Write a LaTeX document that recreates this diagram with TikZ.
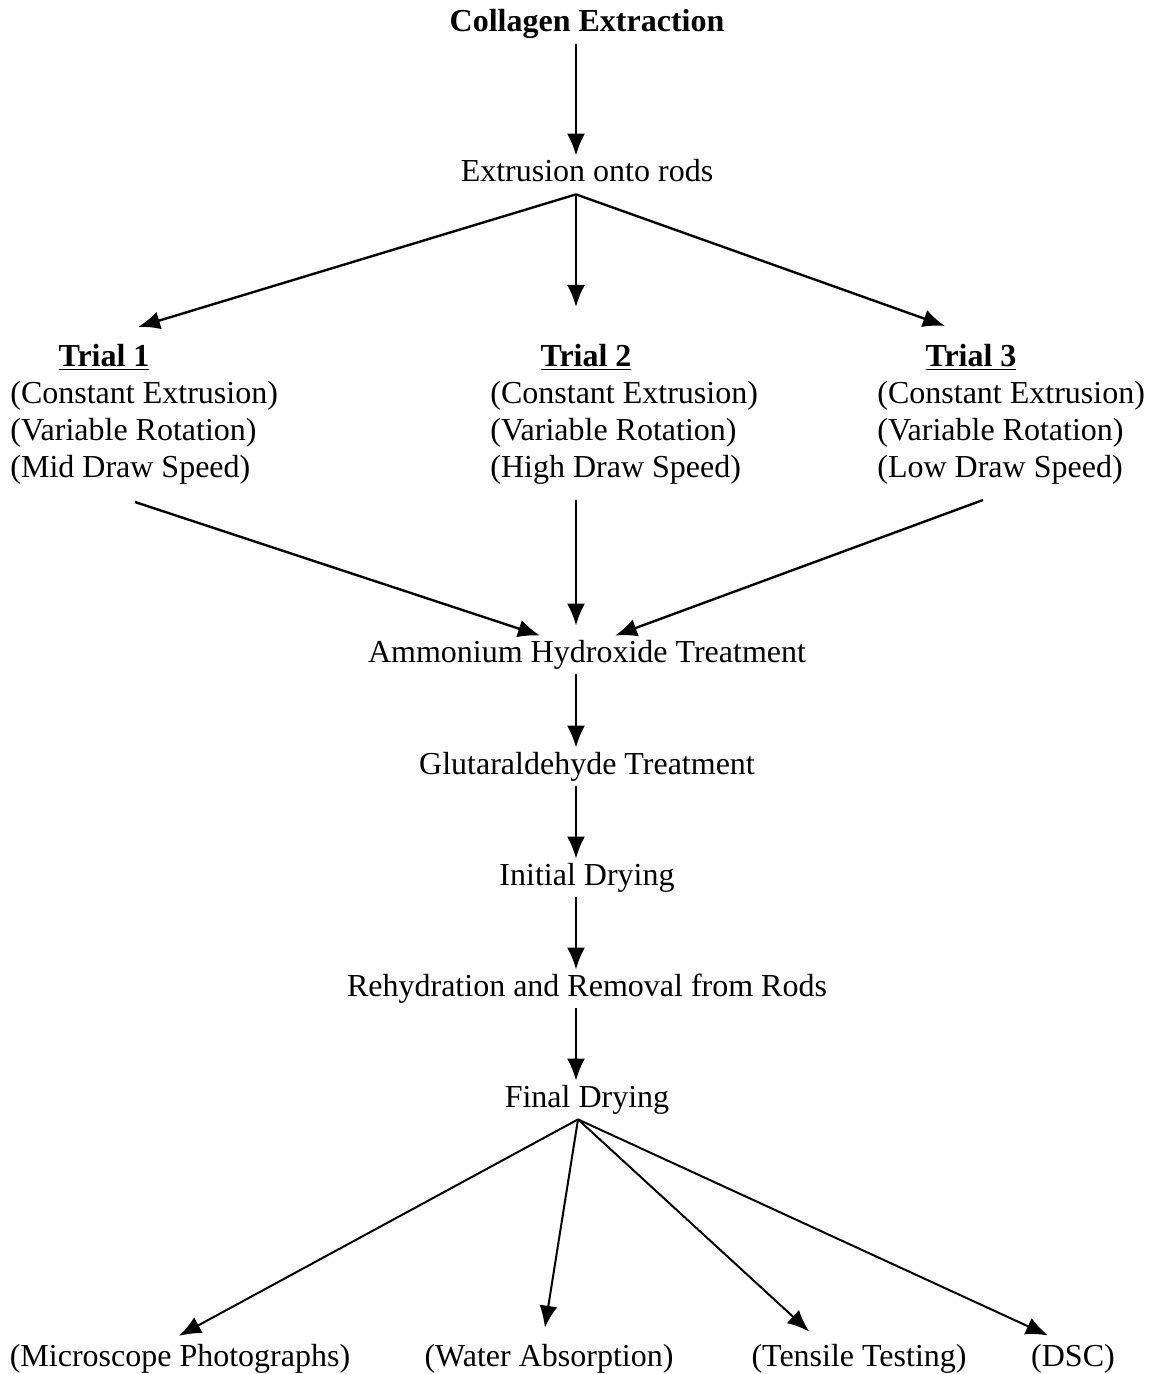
\documentclass[tikz,border=0pt]{standalone}
\usepackage{fontspec}
\setmainfont{Liberation Serif}
\usetikzlibrary{arrows.meta}

\begin{document}
\begin{tikzpicture}[x=0.5pt,y=-0.5pt,
        every node/.style={font=\fontsize{16}{18.5}\selectfont},
        lbl/.style={anchor=base,inner sep=2pt,text height=11pt,text depth=4pt},
        trial/.style={align=left,anchor=base west,inner sep=0pt},
        arr/.style={-{Latex[length=11pt,width=9pt]},line width=1.2pt}]
        \useasboundingbox (0,0) rectangle (1161,1374);
        \coordinate(ax) at (576,0);
        \node[lbl](coll) at (587,32) {\textbf{Collagen Extraction}};
        \node[lbl](extr) at (587,182) {Extrusion onto rods};
        \node[lbl](t1h) at (104,366) {\textbf{\underline{Trial 1}}};
        \node[lbl](t2h) at (586,366) {\textbf{\underline{Trial 2}}};
        \node[lbl](t3h) at (971,366) {\textbf{\underline{Trial 3}}};
        % base of a trial node is its last line
        \node[trial](t1) at (10,477) {(Constant Extrusion)\\(Variable Rotation)\\(Mid Draw Speed)};
        \node[trial](t2) at (490,477) {(Constant Extrusion)\\(Variable Rotation)\\(High Draw Speed)};
        \node[trial](t3) at (877,477) {(Constant Extrusion)\\(Variable Rotation)\\(Low Draw Speed)};
        \node[lbl](amm) at (587,662) {Ammonium Hydroxide Treatment};
        \node[lbl](glu) at (587,774) {Glutaraldehyde Treatment};
        \node[lbl](ini) at (587,885) {Initial Drying};
        \node[lbl](reh) at (587,996) {Rehydration and Removal from Rods};
        \node[lbl](fin) at (587,1107) {Final Drying};
        \node[lbl](mic) at (180,1366) {(Microscope Photographs)};
        \node[lbl](wat) at (549,1366) {(Water Absorption)};
        \node[lbl](ten) at (859,1366) {(Tensile Testing)};
        \node[lbl](dsc) at (1073,1366) {(DSC)};
        % arrow ends round the trials
        \coordinate(t1in) at (138,327);
        \coordinate(t2in) at (576,307);
        \coordinate(t3in) at (945,326);
        \coordinate(t1out) at (135,502);
        \coordinate(t2out) at (576,500);
        \coordinate(t3out) at (983,500);
        \draw[arr](coll.south -| ax)--(extr.north -| ax);
        \draw[arr](extr.south -| ax)--(t1in);
        \draw[arr](extr.south -| ax)--(t2in);
        \draw[arr](extr.south -| ax)--(t3in);
        \draw[arr](t1out)--(amm.north -| 540,0);
        \draw[arr,shorten >=5pt](t2out)--(amm.north -| ax);
        \draw[arr](t3out)--(amm.north -| 615,0);
        \draw[arr](amm.south -| ax)--(glu.north -| ax);
        \draw[arr](glu.south -| ax)--(ini.north -| ax);
        \draw[arr](ini.south -| ax)--(reh.north -| ax);
        \draw[arr](reh.south -| ax)--(fin.north -| ax);
        \draw[arr,line width=1pt,shorten >=4pt](fin.south -| 578,0)--(mic.north -| 172,0);
        \draw[arr,line width=1pt,shorten >=6pt](fin.south -| 578,0)--(wat.north -| 543,0);
        \draw[arr,line width=1pt,shorten >=6pt](fin.south -| 578,0)--(ten.north -| 818,0);
        \draw[arr,line width=1pt,shorten >=5pt](fin.south -| 578,0)--(dsc.north -| 1057,0);
\end{tikzpicture}
\end{document}
